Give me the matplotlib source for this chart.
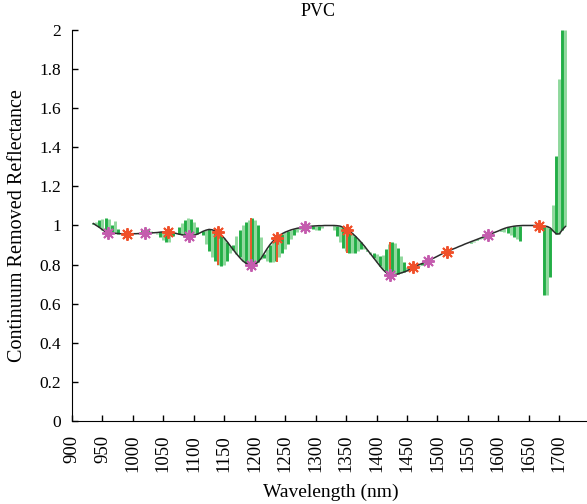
import numpy as np
import matplotlib
matplotlib.use("Agg")
import matplotlib.pyplot as plt

plt.rcParams['font.family'] = ['Liberation Serif', 'DejaVu Serif']

# sample grid (nm)
wavelength = np.arange(935, 1711, 5)

# continuum removed spectrum
cr_value = [
    1.010, 1.000, 0.990, 0.978, 0.968, 0.963, 0.961, 0.960, 0.959, 0.958,
    0.958, 0.958, 0.958, 0.958, 0.958, 0.959, 0.959, 0.960, 0.961, 0.962,
    0.963, 0.964, 0.966, 0.967, 0.968, 0.966, 0.963, 0.960, 0.956, 0.953,
    0.950, 0.948, 0.948, 0.950, 0.955, 0.962, 0.970, 0.976, 0.980, 0.978,
    0.972, 0.964, 0.951, 0.935, 0.916, 0.895, 0.875, 0.855, 0.837, 0.820,
    0.808, 0.800, 0.797, 0.800, 0.812, 0.830, 0.855, 0.880, 0.902, 0.920,
    0.935, 0.948, 0.958, 0.966, 0.972, 0.978, 0.982, 0.986, 0.988, 0.990,
    0.993, 0.995, 0.997, 0.998, 0.999, 0.999, 1.000, 1.000, 1.000, 1.000,
    0.999, 0.997, 0.991, 0.982, 0.972, 0.960, 0.946, 0.930, 0.913, 0.895,
    0.875, 0.855, 0.835, 0.815, 0.795, 0.776, 0.761, 0.750, 0.746, 0.748,
    0.752, 0.757, 0.762, 0.768, 0.777, 0.787, 0.794, 0.800, 0.806, 0.813,
    0.821, 0.828, 0.835, 0.843, 0.851, 0.859, 0.866, 0.872, 0.879, 0.885,
    0.892, 0.898, 0.905, 0.911, 0.917, 0.923, 0.929, 0.935, 0.941, 0.947,
    0.953, 0.960, 0.966, 0.972, 0.979, 0.985, 0.990, 0.993, 0.996, 0.998,
    0.999, 1.000, 1.000, 1.000, 1.000, 1.000, 1.000, 0.999, 0.997, 0.995,
    0.988, 0.972, 0.957, 0.957, 0.978, 0.995,
]

# other end of each green stem
stem_tip = [
    1.012, 1.018, 1.026, 1.033, 1.037, 1.035, 1.000, 1.024, 0.980, 0.958,
    0.958, 0.958, 0.958, 0.958, 0.958, 0.963, 0.975, 0.985, 0.982, 0.972,
    0.962, 0.955, 0.942, 0.928, 0.917, 0.918, 0.945, 0.960, 0.990, 1.015,
    1.030, 1.040, 1.035, 1.020, 0.990, 0.962, 0.950, 0.905, 0.870, 0.840,
    0.818, 0.800, 0.794, 0.800, 0.820, 0.860, 0.900, 0.945, 0.977, 1.003,
    1.020, 1.030, 1.040, 1.030, 1.000, 0.940, 0.832, 0.820, 0.815, 0.815,
    0.820, 0.838, 0.860, 0.880, 0.905, 0.930, 0.950, 0.968, 0.980, 0.990,
    0.993, 0.988, 0.983, 0.979, 0.978, 0.985, 1.000, 1.000, 1.000, 0.975,
    0.945, 0.915, 0.885, 0.868, 0.860, 0.857, 0.860, 0.868, 0.880, 0.878,
    0.872, 0.866, 0.860, 0.852, 0.842, 0.850, 0.880, 0.905, 0.914, 0.910,
    0.885, 0.845, 0.815, 0.790, 0.772, 0.776, 0.786, 0.795, 0.800, 0.810,
    0.818, 0.826, 0.835, 0.843, 0.851, 0.859, 0.866, 0.872, 0.879, 0.885,
    0.892, 0.898, 0.905, 0.908, 0.912, 0.918, 0.925, 0.930, 0.938, 0.947,
    0.953, 0.960, 0.966, 0.970, 0.970, 0.965, 0.960, 0.950, 0.940, 0.930,
    0.921, 1.000, 1.000, 1.000, 1.000, 1.000, 1.000, 0.999, 0.645, 0.645,
    0.736, 1.105, 1.355, 1.750, 2.000, 2.000,
]

# selected band positions
red_wl = [990, 1057, 1139, 1236, 1352, 1459, 1515, 1666]
red_val = [0.958, 0.968, 0.965, 0.938, 0.977, 0.790, 0.866, 0.999]
mag_wl = [959, 1019, 1092, 1194, 1282, 1422, 1484, 1583]
mag_val = [0.963, 0.960, 0.948, 0.798, 0.991, 0.747, 0.820, 0.951]

# highlighted depth lines
line_wl = [1139, 1194, 1236, 1352, 1422]
line_from = [0.965, 0.798, 0.938, 0.977, 0.747]
line_to = [0.796, 1.040, 0.815, 0.858, 0.914]

fig = plt.figure(figsize=(5.87, 5.04), dpi=100)
ax = fig.add_axes([0.1227, 0.1647, 0.882, 0.7758])

stem_colors = ['#22ae46' if i % 2 == 0 else '#8fd89c' for i in range(len(wavelength))]
ax.vlines(wavelength, cr_value, stem_tip, colors=stem_colors, linewidth=2.1, zorder=1)
ax.vlines(line_wl, line_from, line_to, colors='#ea5a2e', linewidth=1.4, zorder=2)
ax.plot(wavelength, cr_value, color='#2b2b2b', linewidth=1.1, zorder=3)

ax.plot(red_wl, red_val, linestyle='none', marker=(8, 2, 0), markersize=9,
        markeredgewidth=1.4, color='#f0502a', zorder=4)
ax.plot(mag_wl, mag_val, linestyle='none', marker=(8, 2, 0), markersize=9,
        markeredgewidth=1.4, color='#c45cae', zorder=4)

ax.set_xlim(900, 1750)
ax.set_ylim(0, 2)
ax.set_xticks(np.arange(900, 1701, 50))
ax.set_yticks(np.arange(0, 2.01, 0.2))
ax.set_yticklabels(['0', '0.2', '0.4', '0.6', '0.8', '1', '1.2', '1.4', '1.6', '1.8', '2'])
ax.tick_params(direction='in', length=4, width=1)
ax.tick_params(axis='x', labelrotation=90, labelsize=13.5, pad=10)
ax.tick_params(axis='y', labelsize=12.5, pad=8)
ax.spines['top'].set_visible(False)
ax.spines['right'].set_visible(False)

ax.set_xlabel('Wavelength (nm)', fontsize=14, labelpad=8)
ax.set_ylabel('Continuum Removed Reflectance', fontsize=14.5, labelpad=9)
ax.set_title('PVC', fontsize=13, pad=10, x=0.475)

fig.savefig('out.png', dpi=100)
